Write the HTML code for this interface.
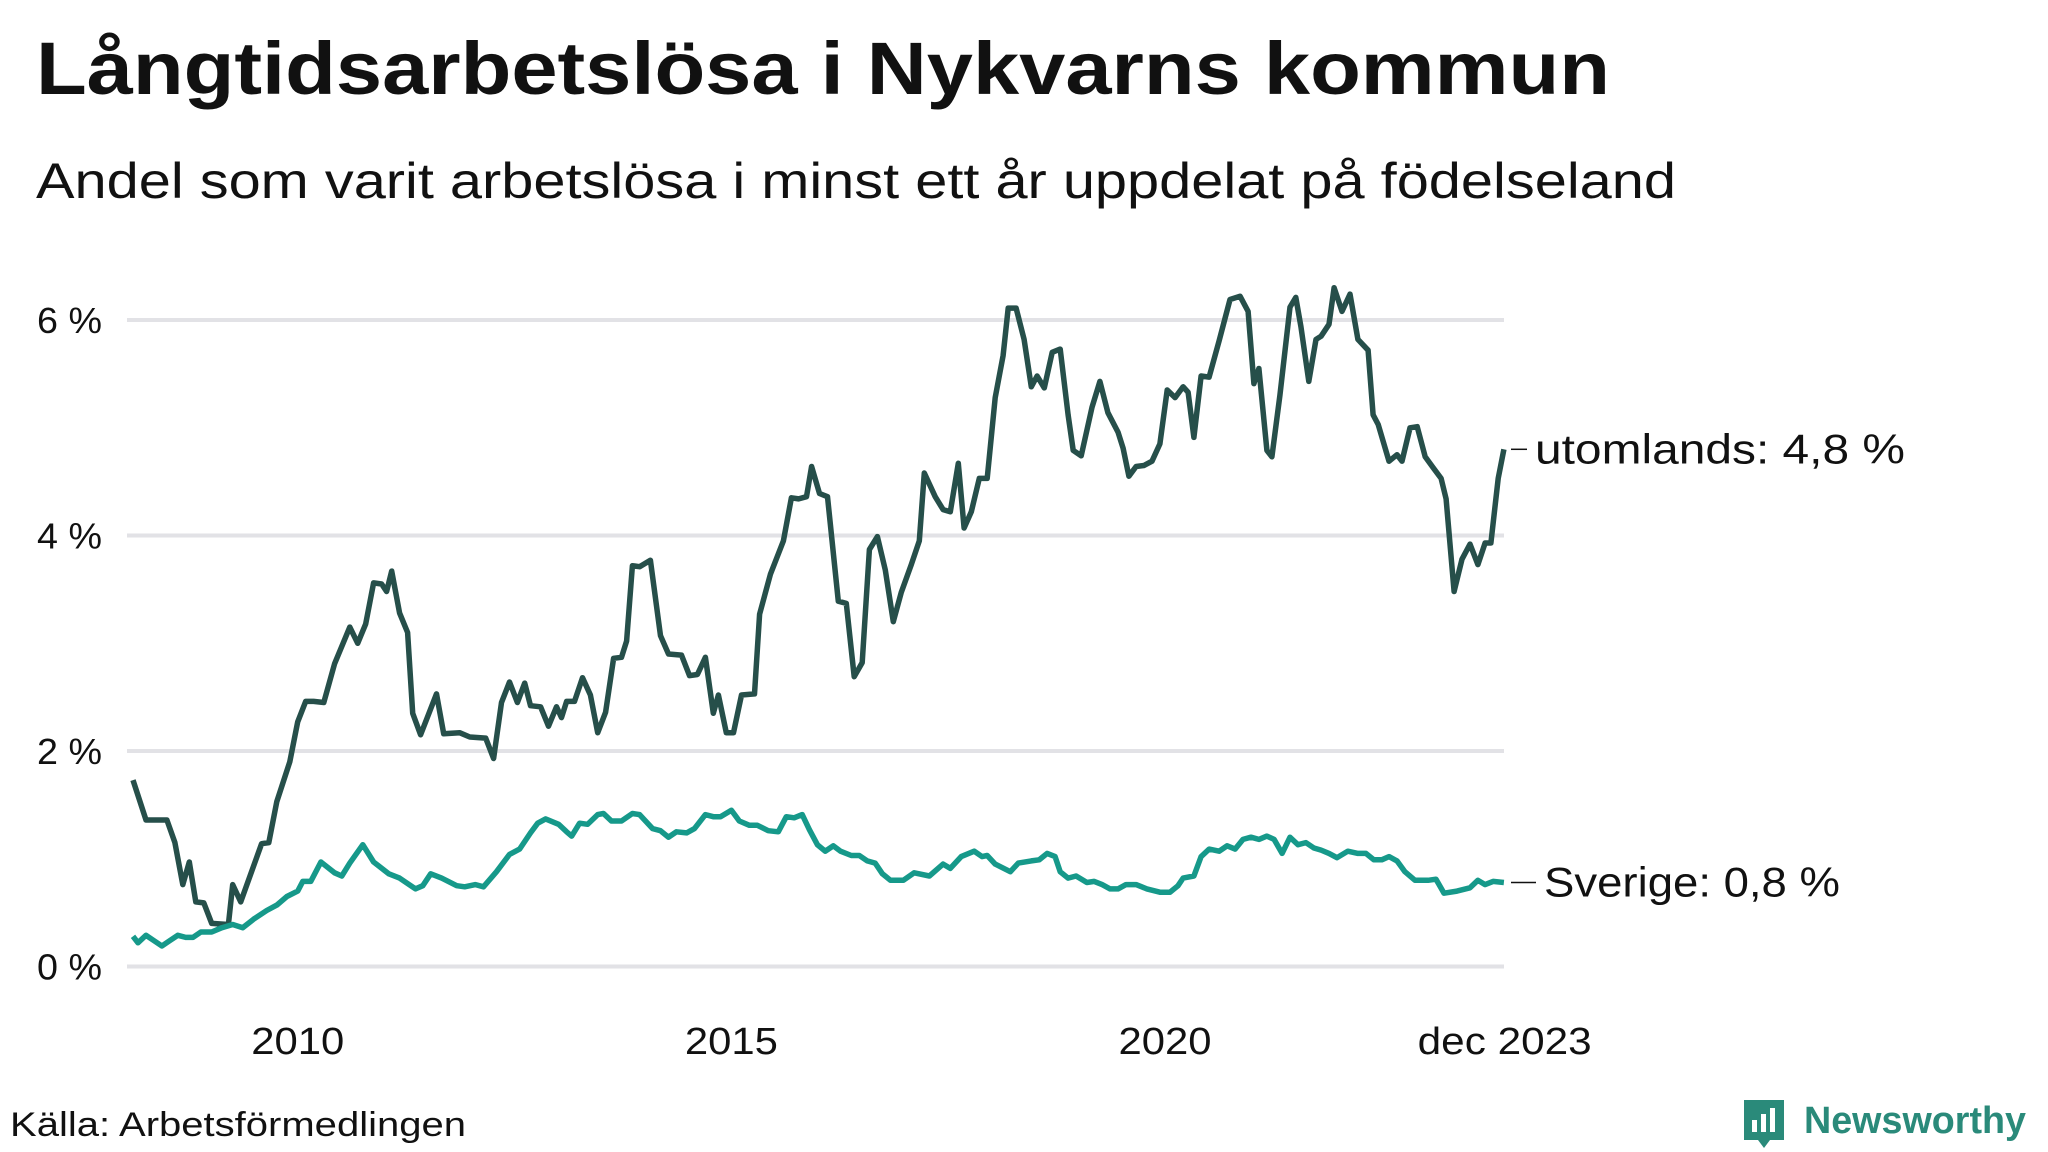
<!DOCTYPE html>
<html><head><meta charset="utf-8"><style>
html,body{margin:0;padding:0;background:#fff;}
svg{display:block;font-family:"Liberation Sans","DejaVu Sans",sans-serif;}
</style></head><body>
<svg id="chart" width="2048" height="1152" viewBox="0 0 2048 1152" xmlns="http://www.w3.org/2000/svg">
<text x="36" y="94" font-size="74" font-weight="bold" fill="#111" textLength="1574" lengthAdjust="spacingAndGlyphs">Långtidsarbetslösa i Nykvarns kommun</text>
<text x="36" y="198" font-size="50" fill="#111" textLength="1640" lengthAdjust="spacingAndGlyphs">Andel som varit arbetslösa i minst ett år uppdelat på födelseland</text>
<g id="grid"></g>
<g id="yticks"></g>
<g id="xticks"></g>
<g id="lines"></g>
<g id="labels"></g>
<text x="10" y="1136" font-size="34" fill="#111" textLength="456" lengthAdjust="spacingAndGlyphs">Källa: Arbetsförmedlingen</text>
<g>
<path d="M1744 1100 h40 v40 h-14 l-6 8 l-6 -8 h-14 z" fill="#2a8a7a"/>
<rect x="1752" y="1120" width="5" height="12" fill="#fff"/>
<rect x="1761" y="1114" width="5" height="18" fill="#fff"/>
<rect x="1770" y="1108" width="5" height="24" fill="#fff"/>
<text x="1804" y="1133" font-size="38" font-weight="bold" fill="#2a8a7a" textLength="222" lengthAdjust="spacingAndGlyphs">Newsworthy</text>
</g>
</svg>
<script>
const yTicks=[0,2,4,6];
const yTickLabels=["0 %","2 %","4 %","6 %"];
const xTicks=[24,84,144,191];
const xTickLabels=["2010","2015","2020","dec 2023"];
// months since Jan 2008
const utoMonths=[1.2,3.0,5.9,7.0,8.1,9.0,9.9,11.0,12.1,14.4,15.0,16.1,19.0,20.0,21.1,22.9,24.0,25.1,26.2,27.6,29.1,31.2,32.3,33.4,34.5,35.6,36.3,37.0,38.1,39.2,39.9,41.0,43.2,44.2,46.4,47.8,50.0,51.1,52.2,53.3,54.4,55.4,56.2,57.6,58.7,59.8,60.5,61.2,62.3,63.4,64.5,65.5,66.6,67.7,68.8,69.5,70.3,71.3,72.8,74.2,75.3,77.1,78.2,79.3,80.4,81.5,82.2,83.3,84.3,85.4,87.2,87.9,89.4,91.2,92.3,93.3,94.4,95.1,96.2,97.3,98.8,99.9,101.0,102.1,103.1,104.2,105.3,106.4,107.5,108.9,110.0,110.7,112.2,113.3,114.3,115.4,116.2,117.2,118.3,119.4,120.5,121.6,122.3,123.4,124.5,125.5,126.3,127.3,128.4,129.5,130.6,131.3,132.4,133.9,135.0,136.1,137.5,138.2,139.0,140.0,141.1,142.2,143.3,144.3,145.4,146.5,147.2,148.0,149.0,150.1,151.5,153.0,154.4,155.5,156.3,157.0,158.1,158.8,159.9,161.3,162.1,162.8,163.9,164.9,165.6,166.7,167.4,168.5,169.6,170.7,172.1,172.8,173.5,175.0,176.1,176.8,177.9,178.9,180.0,181.1,182.2,182.9,184.0,185.1,186.2,187.3,188.3,189.1,190.1,190.9];
const utoValues=[1.73,1.36,1.36,1.15,0.76,0.97,0.6,0.59,0.4,0.39,0.76,0.6,1.14,1.15,1.53,1.9,2.27,2.46,2.46,2.45,2.81,3.15,3.0,3.18,3.56,3.55,3.48,3.67,3.28,3.1,2.35,2.15,2.53,2.16,2.17,2.13,2.12,1.93,2.45,2.64,2.45,2.63,2.42,2.41,2.23,2.41,2.31,2.46,2.46,2.68,2.52,2.17,2.36,2.86,2.87,3.02,3.72,3.71,3.77,3.07,2.9,2.89,2.7,2.71,2.87,2.35,2.52,2.17,2.17,2.52,2.53,3.27,3.64,3.95,4.35,4.34,4.36,4.64,4.39,4.36,3.39,3.37,2.69,2.82,3.87,3.99,3.68,3.2,3.47,3.73,3.95,4.58,4.36,4.24,4.22,4.67,4.07,4.22,4.53,4.53,5.28,5.67,6.11,6.11,5.82,5.38,5.48,5.37,5.7,5.73,5.12,4.79,4.74,5.19,5.43,5.14,4.96,4.81,4.55,4.64,4.65,4.69,4.85,5.35,5.28,5.38,5.33,4.91,5.48,5.47,5.81,6.19,6.22,6.08,5.41,5.55,4.79,4.73,5.3,6.12,6.21,5.94,5.43,5.82,5.85,5.96,6.3,6.08,6.24,5.82,5.72,5.12,5.03,4.69,4.75,4.69,5.0,5.01,4.73,4.63,4.53,4.34,3.48,3.78,3.92,3.73,3.93,3.93,4.53,4.8];
const sveMonths=[1.2,1.9,3.0,4.1,5.2,6.3,7.4,8.5,9.5,10.6,12.1,13.5,15.0,16.4,17.9,19.7,21.1,22.5,24.0,24.7,25.8,27.2,29.1,30.1,31.2,33.0,34.5,36.6,38.1,40.3,41.3,42.4,43.9,46.0,47.1,48.6,49.7,51.5,53.3,54.7,56.2,57.2,58.3,60.1,61.2,61.9,63.0,64.1,65.5,66.3,67.4,68.8,70.3,71.3,73.1,74.2,75.3,76.4,77.8,78.9,80.4,81.5,82.5,84.0,85.1,86.5,87.6,89.1,90.5,91.6,92.7,93.8,94.8,95.9,97.0,98.1,99.1,100.6,101.7,102.8,103.9,104.9,106.0,107.8,109.3,111.4,113.3,114.3,115.8,117.6,118.7,119.4,120.5,122.6,123.7,125.5,126.6,127.7,128.8,129.5,130.6,131.7,133.2,134.2,135.3,136.4,137.5,138.6,140.0,141.5,143.3,144.7,145.8,146.5,148.0,149.0,150.1,151.5,152.6,153.7,154.8,155.9,157.0,158.1,159.1,160.2,161.3,162.4,163.5,164.6,165.6,166.7,167.8,169.3,170.7,171.8,172.9,174.0,175.0,176.1,177.2,178.6,180.4,181.5,182.6,184.4,186.2,187.3,188.3,189.4,190.9];
const sveValues=[0.28,0.22,0.29,0.24,0.19,0.24,0.29,0.27,0.27,0.32,0.32,0.36,0.39,0.36,0.44,0.52,0.57,0.65,0.7,0.79,0.79,0.97,0.87,0.84,0.96,1.13,0.97,0.86,0.82,0.72,0.75,0.86,0.82,0.75,0.74,0.76,0.74,0.88,1.04,1.09,1.24,1.33,1.37,1.32,1.25,1.21,1.33,1.32,1.41,1.42,1.35,1.35,1.42,1.41,1.28,1.26,1.2,1.25,1.24,1.28,1.41,1.39,1.39,1.45,1.35,1.31,1.31,1.26,1.25,1.39,1.38,1.41,1.27,1.13,1.07,1.12,1.07,1.03,1.03,0.98,0.96,0.86,0.8,0.8,0.87,0.84,0.95,0.91,1.02,1.07,1.02,1.03,0.95,0.88,0.96,0.98,0.99,1.05,1.02,0.88,0.82,0.84,0.78,0.79,0.76,0.72,0.72,0.76,0.76,0.72,0.69,0.69,0.75,0.82,0.84,1.02,1.09,1.07,1.12,1.09,1.18,1.2,1.18,1.21,1.18,1.05,1.2,1.13,1.15,1.1,1.08,1.05,1.01,1.07,1.05,1.05,0.99,0.99,1.02,0.98,0.88,0.8,0.8,0.81,0.68,0.7,0.73,0.8,0.76,0.79,0.78];
const utoLabel="utomlands: 4,8 %";
const sveLabel="Sverige: 0,8 %";

const NS="http://www.w3.org/2000/svg";
const X0=124.3, XS=7.227, Y0=966.5, YS=107.75, XR=1504;
const xs=m=>X0+m*XS;
const ys=v=>Y0-v*YS;
function mk(tag,attrs,parent,text){const e=document.createElementNS(NS,tag);for(const k in attrs)e.setAttribute(k,attrs[k]);if(text!==undefined)e.textContent=text;parent.appendChild(e);return e;}
const grid=document.getElementById('grid'),yt=document.getElementById('yticks'),xt=document.getElementById('xticks'),lines=document.getElementById('lines'),labels=document.getElementById('labels');
yTicks.forEach((v,i)=>{
  const g=mk('line',{x1:127,x2:XR,y1:ys(v),y2:ys(v),stroke:'#e2e2e6','stroke-width':4},grid);
  
  
  const t=mk('text',{x:37,y:ys(v)+13,'font-size':36,fill:'#111',textLength:65,lengthAdjust:'spacingAndGlyphs'},yt,yTickLabels[i]);
  
  
});
xTicks.forEach((m,i)=>{
  const w=xTickLabels[i].length>4?174:93;
  const t=mk('text',{x:xs(m),y:1054,'font-size':38,fill:'#111','text-anchor':'middle',textLength:w,lengthAdjust:'spacingAndGlyphs'},xt,xTickLabels[i]);
  
  
});
function path(ms,vs){return ms.map((m,i)=>(i?'L':'M')+xs(m).toFixed(1)+' '+ys(vs[i]).toFixed(1)).join(' ');}
const pu=mk('path',{d:path(utoMonths,utoValues),fill:'none',stroke:'#264f4a','stroke-width':5.5,'stroke-linejoin':'round'},lines);


const ps=mk('path',{d:path(sveMonths,sveValues),fill:'none',stroke:'#16998a','stroke-width':5.5,'stroke-linejoin':'round'},lines);


function endLabel(vs,txt,name,x,w){
  const y=ys(vs[vs.length-1]);
  mk('line',{x1:1511,x2:x-8,y1:y,y2:y,stroke:'#111','stroke-width':1.5},labels);
  const t=mk('text',{x:x,y:y+14,'font-size':42,fill:'#111',textLength:w,lengthAdjust:'spacingAndGlyphs'},labels,txt);
  
  
}
endLabel(utoValues,utoLabel,'label-utomlands',1535,370);
endLabel(sveValues,sveLabel,'label-sverige',1544,296);
</script>
</body></html>
